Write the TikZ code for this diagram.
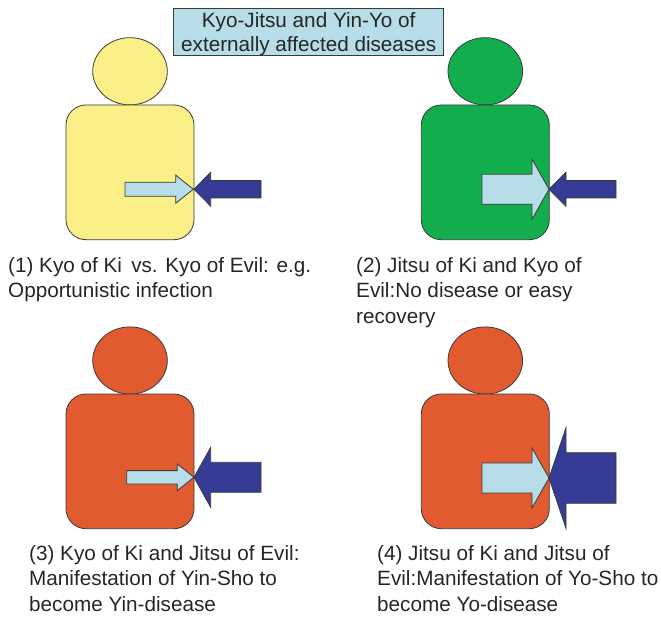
\documentclass[tikz,border=0pt]{standalone}
\usepackage{fontspec}
\setmainfont{Liberation Sans}
\definecolor{cyel}{HTML}{FBF088}
\definecolor{cgrn}{HTML}{12AE4E}
\definecolor{cora}{HTML}{E25A30}
\definecolor{clb}{HTML}{B6DDE8}
\definecolor{cnv}{HTML}{363C96}
\definecolor{cln}{HTML}{3A3A3A}
\tikzset{
  shp/.style={draw=cln,line width=0.8pt,line join=miter},
  lab/.style={anchor=north west,align=left,inner sep=0pt,font=\fontsize{20.7}{25.5}\selectfont,text=black!85},
}
\newcommand{\blockarrow}[7]{%
  \draw[shp,fill=#7] (#1,#3-#4) -- (#2-#6,#3-#4) -- (#2-#6,#3-#5) -- (#2,#3) -- (#2-#6,#3+#5) -- (#2-#6,#3+#4) -- (#1,#3+#4) -- cycle;}
\newcommand{\person}[4]{%
  \draw[shp,fill=#4] (#1,#2) ellipse [x radius=37.3,y radius=33.6];
  \draw[shp,fill=#4,rounded corners=20] (#1-64,#3) rectangle (#1+64,#3+134.7);}
\begin{document}
\begin{tikzpicture}[x=1pt,y=-1pt]
\useasboundingbox (0,0) rectangle (661,617);
\person{130}{71.3}{105}{cyel}
\blockarrow{125}{193.3}{189.2}{7}{14}{17.5}{clb}
\blockarrow{261}{194}{189.2}{8.7}{17}{-16.7}{cnv}
\person{485.3}{71.3}{105}{cgrn}
\blockarrow{482}{549}{189.2}{15}{30}{17}{clb}
\blockarrow{616}{549}{189.2}{8.7}{17}{-17}{cnv}
\person{130}{360.5}{394}{cora}
\blockarrow{126.7}{194}{477.3}{6.7}{13.3}{16.7}{clb}
\blockarrow{261}{194}{477.3}{15}{30}{-16.7}{cnv}
\person{485.3}{360.5}{394}{cora}
\blockarrow{482}{549}{478}{15}{30}{17}{clb}
\blockarrow{616}{549}{478}{25.3}{50.3}{-17}{cnv}
\node[shp,fill=clb,minimum width=270,minimum height=47,anchor=north west,inner sep=0pt] (title) at (173.3,8) {};
\node[align=center,inner sep=0pt,font=\fontsize{20.7}{24.5}\selectfont,text=black!85] (titletext) at ([yshift=-2.5]title.center) {Kyo-Jitsu and Yin-Yo of\\externally affected diseases};
\node[lab] (l1) at (8,257) {(1) Kyo of Ki\ \,vs. Kyo of Evil: e.g.\\Opportunistic infection};
\node[lab] (l2) at (356,257) {(2) Jitsu of Ki and Kyo of\\Evil:No disease or easy\\recovery};
\node[lab] (l3) at (29,545) {(3) Kyo of Ki and Jitsu of Evil:\\Manifestation of Yin-Sho to\\become Yin-disease};
\node[lab] (l4) at (377,545) {(4) Jitsu of Ki and Jitsu of\\Evil:Manifestation of Yo-Sho to\\become Yo-disease};
\end{tikzpicture}
\end{document}
